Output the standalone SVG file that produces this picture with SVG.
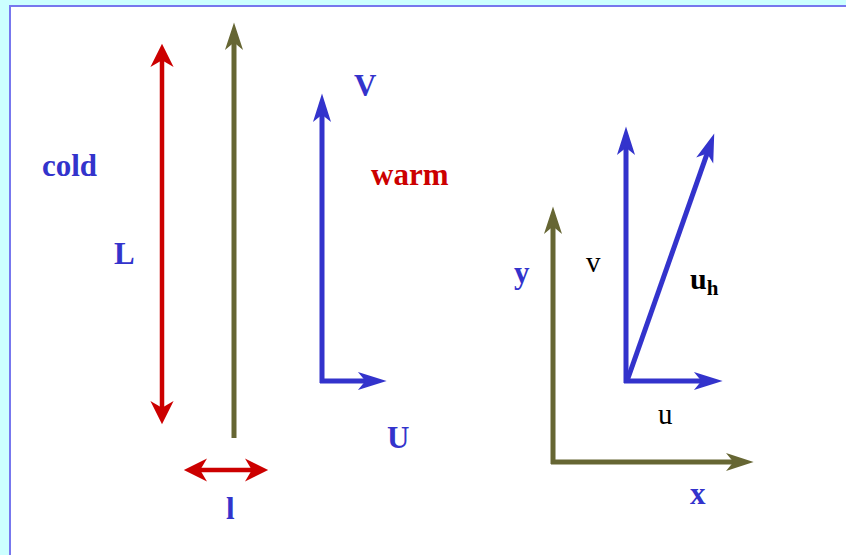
<svg xmlns="http://www.w3.org/2000/svg" width="846" height="555" viewBox="0 0 846 555">
<defs>
<style>
.t{font-family:"Liberation Serif","Times New Roman",serif;font-size:31px;font-weight:bold}
.b{fill:#3333cc}.r{fill:#cc0000}.k{fill:#000}
.n{font-family:"Liberation Serif","Times New Roman",serif;font-size:29px;fill:#000}
.red{stroke:#cc0000;stroke-width:4.5;fill:none}
.blu{stroke:#3333cc;stroke-width:5;fill:none}
.olv{stroke:#666633;stroke-width:5;fill:none}
</style>
<marker id="ar" markerUnits="userSpaceOnUse" markerWidth="30" markerHeight="30" viewBox="-20 -10 22 20" refX="-6" refY="0" orient="auto-start-reverse"><path d="M0,0 L-17,-8.5 L-12,0 L-17,8.5 Z" fill="#cc0000"/></marker>
<marker id="ab" markerUnits="userSpaceOnUse" markerWidth="34" markerHeight="30" viewBox="-30 -10 32 20" refX="-10" refY="0" orient="auto"><path d="M0,0 L-27,-8.5 L-20,0 L-27,8.5 Z" fill="#3333cc"/></marker>
<marker id="ao" markerUnits="userSpaceOnUse" markerWidth="34" markerHeight="30" viewBox="-30 -10 32 20" refX="-10" refY="0" orient="auto"><path d="M0,0 L-26,-8.5 L-19,0 L-26,8.5 Z" fill="#666633"/></marker>
</defs>
<rect x="0" y="0" width="846" height="555" fill="#ccffff"/>
<rect x="10" y="6" width="850" height="560" fill="#ffffff" stroke="#7777ee" stroke-width="2"/>
<g id="connectors">
<line class="red" x1="162" y1="52" x2="162" y2="416" marker-start="url(#ar)" marker-end="url(#ar)"/>
<line class="red" x1="192" y1="470" x2="260" y2="470" marker-start="url(#ar)" marker-end="url(#ar)"/>
<line class="olv" x1="234" y1="438" x2="234" y2="33" marker-end="url(#ao)"/>
<line class="blu" x1="322" y1="383" x2="322" y2="104" marker-end="url(#ab)"/>
<line class="blu" x1="320" y1="381" x2="376" y2="381" marker-end="url(#ab)"/>
<line class="olv" x1="553" y1="464" x2="553" y2="217" marker-end="url(#ao)"/>
<line class="olv" x1="551" y1="462" x2="743" y2="462" marker-end="url(#ao)"/>
<line class="blu" x1="626" y1="383" x2="626" y2="137" marker-end="url(#ab)"/>
<line class="blu" x1="624" y1="381" x2="712" y2="381" marker-end="url(#ab)"/>
<line class="blu" x1="627" y1="381" x2="710.7" y2="143.4" marker-end="url(#ab)"/>
</g>
<g id="labels">
<text class="t b" x="42" y="176">cold</text>
<text class="t b" x="114" y="264">L</text>
<text class="t b" x="354" y="96">V</text>
<text class="t r" x="371" y="185">warm</text>
<text class="t b" x="387" y="448">U</text>
<text class="t b" x="226" y="519">l</text>
<text class="t b" x="514" y="283">y</text>
<text class="t b" x="690" y="504">x</text>
<text class="n" x="586" y="272">v</text>
<text class="n" x="658" y="424">u</text>
<text class="t k" x="690" y="289" style="font-size:30px">u<tspan style="font-size:21px" dy="6">h</tspan></text>
</g>
</svg>
